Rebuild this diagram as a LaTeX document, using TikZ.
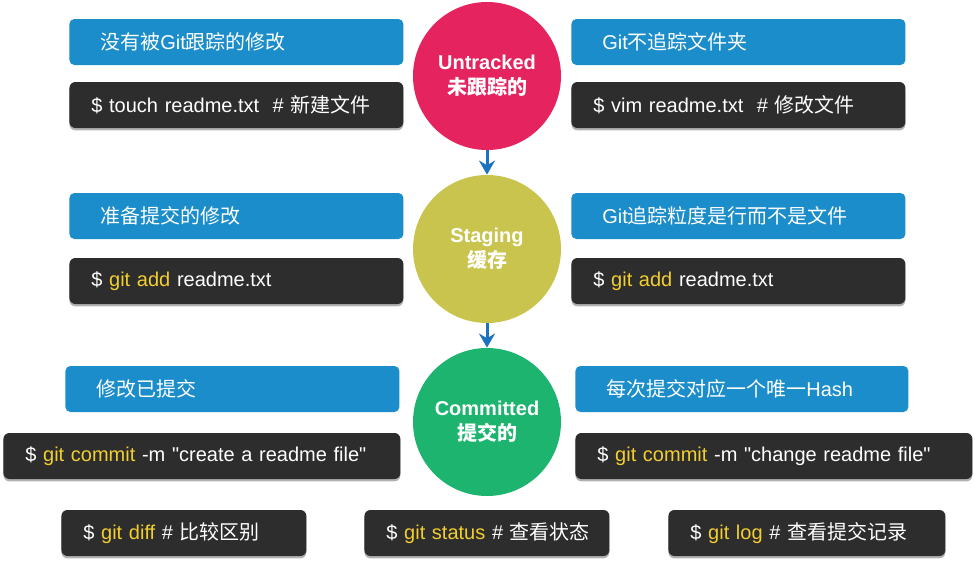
\documentclass[tikz,border=0pt]{standalone}
\usepackage{fontspec}
\setmainfont{Liberation Sans}[WordSpace=0.8]
\newfontfamily\zhfont{Noto Sans CJK SC}
\usetikzlibrary{arrows.meta,shadows}

\definecolor{tipblue}{HTML}{1A8DCA}
\definecolor{cmddark}{HTML}{2D2D2D}
\definecolor{cmdyellow}{HTML}{F2CE2E}
\definecolor{untrackedred}{HTML}{E5235E}
\definecolor{stagingolive}{HTML}{C8C44E}
\definecolor{committedgreen}{HTML}{1DB46F}
\definecolor{arrowblue}{HTML}{1B72BE}

\newcommand{\zh}[1]{{\zhfont #1}}
\newcommand{\gitcmd}[1]{\textcolor{cmdyellow}{#1}}

\begin{document}
\begin{tikzpicture}[x=0.5pt, y=-0.5pt,
    tip/.style={fill=tipblue, rounded corners=2.5pt, text=white, anchor=west,
      align=left, inner xsep=15.5pt, inner ysep=0pt, minimum height=23pt,
      text width=136pt, font=\fontsize{10}{12}\selectfont},
    cmd/.style={fill=cmddark, rounded corners=3pt, text=white, anchor=west,
      align=left, inner xsep=11pt, inner ysep=0pt, minimum height=23pt,
      text width=145pt, font=\fontsize{10}{12}\selectfont,
      drop shadow={shadow xshift=0pt, shadow yshift=-1.2pt, opacity=0.3, fill=black}},
    state/.style={circle, minimum size=74pt, inner sep=0pt, text=white,
      align=center, font=\bfseries\fontsize{10}{12.5}\selectfont},
    arrow/.style={-{Stealth[length=7pt, width=8pt]}, line width=1.5pt, draw=arrowblue}
  ]
    \useasboundingbox (0,0) rectangle (975,562);

    % states
    \node[state, fill=untrackedred] (untracked) at (487,76) {Untracked\\\zh{未跟踪的}};
    \node[state, fill=stagingolive] (staging) at (487,249) {Staging\\\zh{缓存}};
    \node[state, fill=committedgreen] (committed) at (487,422) {Committed\\\zh{提交的}};
    \draw[arrow] (untracked) -- (staging);
    \draw[arrow] (staging) -- (committed);

    % untracked
    \node[tip] (untrackedtip) at (69,42) {\zh{没有被}Git\zh{跟踪的修改}};
    \node[cmd] (untrackedcmd) at (69,105) {\$ touch readme.txt\ \ \# \zh{新建文件}};
    \node[tip] (foldertip) at (571,42) {Git\zh{不追踪文件夹}};
    \node[cmd] (foldercmd) at (571,105) {\$ vim readme.txt\ \ \# \zh{修改文件}};

    % staging
    \node[tip] (stagingtip) at (69,216) {\zh{准备提交的修改}};
    \node[cmd] (stagingcmd) at (69,281) {\$ \gitcmd{git add} readme.txt};
    \node[tip] (linetip) at (571,216) {Git\zh{追踪粒度是行而不是文件}};
    \node[cmd] (linecmd) at (571,281) {\$ \gitcmd{git add} readme.txt};

    % committed
    \node[tip] (committedtip) at (65,389) {\zh{修改已提交}};
    \node[cmd, text width=176.5pt] (committedcmd) at (3,456)
      {\$ \gitcmd{git commit} -m \textquotedbl create a readme file\textquotedbl};
    \node[tip, text width=135.5pt] (hashtip) at (575,389) {\zh{每次提交对应一个唯一}Hash};
    \node[cmd, text width=176.5pt] (hashcmd) at (575,456)
      {\$ \gitcmd{git commit} -m \textquotedbl change readme file\textquotedbl};

    % other commands
    \node[cmd, text width=100.5pt] (diffcmd) at (61,533) {\mbox{\$ \gitcmd{git diff} \# \zh{比较区别}}};
    \node[cmd, text width=100.5pt] (statuscmd) at (364,533) {\mbox{\$ \gitcmd{git status} \# \zh{查看状态}}};
    \node[cmd, text width=116.5pt] (logcmd) at (668,533) {\mbox{\$ \gitcmd{git log} \# \zh{查看提交记录}}};
  \end{tikzpicture}
\end{document}
